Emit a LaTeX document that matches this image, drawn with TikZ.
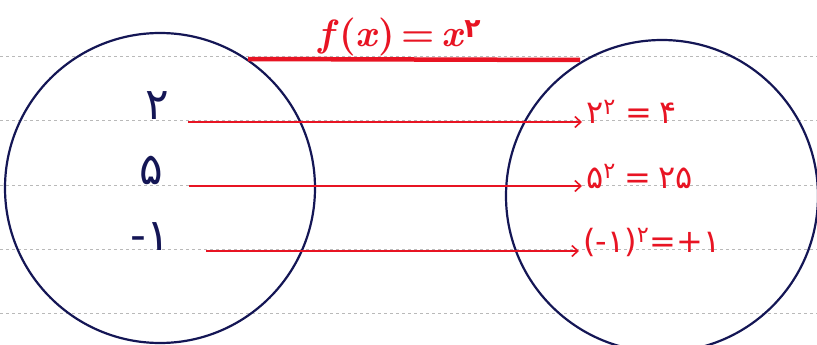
\documentclass[tikz,border=0pt]{standalone}
\usepackage{fontspec}
\newfontfamily\fa{DejaVu Sans}
\usetikzlibrary{arrows.meta}
\definecolor{ink}{RGB}{20,22,85}
\definecolor{pen}{RGB}{232,20,35}
\tikzset{
  setcirc/.style={circle, draw=ink, line width=2.2pt, minimum size=#1, inner sep=0pt},
  rule/.style={gray!55, dashed, line width=0.5pt},
  dom/.style={anchor=base, text=ink, font=\fa\fontsize{44}{44}\selectfont, inner sep=0pt},
  img/.style={anchor=base west, text=pen, font=\fa\fontsize{32}{32}\selectfont, inner sep=0pt},
  maparrow/.style={pen, line width=1.6pt, -{Straight Barb[length=6pt,width=11pt]}},
}
\begin{document}
\begin{tikzpicture}[x=1pt,y=-1pt]
\useasboundingbox (0,0) rectangle (817,345);
\clip (0,0) rectangle (817,345);
\fill[white] (0,0) rectangle (817,345);
% notebook rules
\foreach \yy in {56,120,185,249,313} \draw[rule] (0,\yy) -- (817,\yy);
% sets
\node[setcirc=310pt] (A) at (160,188) {};
\node[setcirc=312pt] (B) at (662,196) {};
% function label and bar
\coordinate (barL) at (248,59);
\coordinate (barR) at (580,60);
\draw[pen, line width=4.5pt] (barL) -- (barR);
\node[text=pen, anchor=base, inner sep=0pt, font=\fontsize{38}{38}\selectfont\bfseries] (f) at (400,47) {\textit{f}(\textit{x})\,=\,\textit{x}\textsuperscript{\fa ۲}};
% domain elements
\node[dom] (a1) at (157,119) {۲};
\node[dom] (a2) at (151,184) {۵};
\node[dom] (a3) at (150,250) {-۱};
% images
\node[img] (b1) at (586,124) {۲\textsuperscript{۲}\hspace{10pt}=\hspace{7pt}۴};
\node[img] (b2) at (586,188) {۵\textsuperscript{۲}\hspace{9pt}=\hspace{7pt}۲۵};
\node[img] (b3) at (583,252) {(-۱)\textsuperscript{۲}=+۱};
% arrows
\draw[maparrow] ([xshift=19pt,yshift=-3pt]a1.base east) -- ([xshift=-4pt,yshift=-3pt]b1.base west |- a1.base);
\draw[maparrow] ([xshift=26pt,yshift=-2pt]a2.base east) -- ([xshift=-4pt,yshift=-2pt]b2.base west |- a2.base);
\draw[maparrow] ([xshift=36pt,yshift=-1pt]a3.base east) -- ([xshift=-4pt,yshift=-1pt]b3.base west |- a3.base);
\end{tikzpicture}
\end{document}
